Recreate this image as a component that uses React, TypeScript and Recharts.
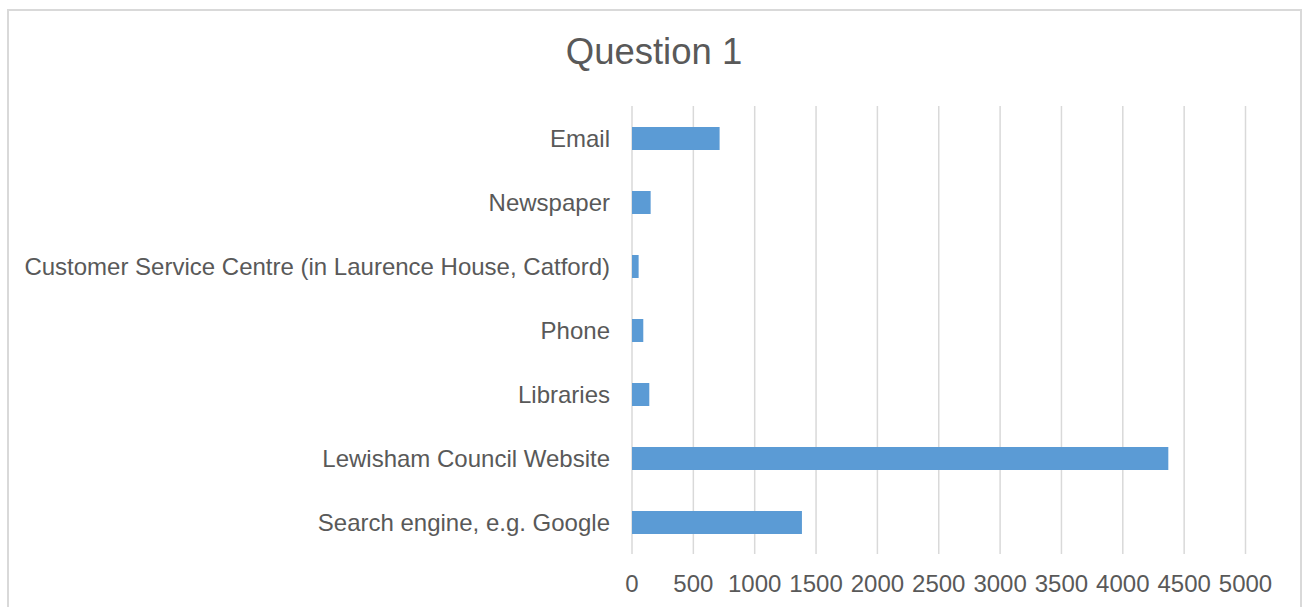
import React from "react";
import { BarChart, Bar, XAxis, YAxis, CartesianGrid } from "recharts";

const categories = [
  "Email",
  "Newspaper",
  "Customer Service Centre (in Laurence House, Catford)",
  "Phone",
  "Libraries",
  "Lewisham Council Website",
  "Search engine, e.g. Google",
];
const values = [714, 152, 54, 92, 141, 4371, 1385];
const xTicks = [0, 500, 1000, 1500, 2000, 2500, 3000, 3500, 4000, 4500, 5000];
const title = "Question 1";

const data = categories.map((name, i) => ({ name, value: values[i] }));

const FONT = "'Liberation Sans', Arial, Helvetica, sans-serif";
const TEXT = "#595959";

export default function App() {
  return (
    <div style={{ position: "absolute", left: 0, top: 0, width: 1303, height: 607, background: "#fff", overflow: "hidden" }}>
      <BarChart
        width={1303}
        height={607}
        data={data}
        layout="vertical"
        margin={{ top: 106, right: 57.5, left: 0, bottom: 0 }}
        barSize={23}
      >
        <CartesianGrid horizontal={false} stroke="#d9d9d9" strokeWidth={1.5} />
        <XAxis
          type="number"
          domain={[0, 5000]}
          ticks={xTicks}
          interval={0}
          axisLine={false}
          tickLine={false}
          tickSize={0}
          tickMargin={21}
          height={53}
          tick={{ fill: TEXT, fontSize: 24, fontFamily: FONT }}
        />
        <YAxis
          type="category"
          dataKey="name"
          width={632}
          axisLine={false}
          tickLine={false}
          tickSize={0}
          tickMargin={22}
          interval={0}
          tick={{ fill: TEXT, fontSize: 24, fontFamily: FONT }}
        />
        <Bar dataKey="value" fill="#5b9bd5" isAnimationActive={false} />
      </BarChart>
      <svg
        width={1303}
        height={607}
        style={{ position: "absolute", left: 0, top: 0, pointerEvents: "none" }}
      >
        <rect x={8} y={10} width={1293} height={640} fill="none" stroke="#d9d9d9" strokeWidth={2} />
        <text x={654} y={64} textAnchor="middle" fill={TEXT} fontSize={36.5} fontFamily={FONT}>
          {title}
        </text>
      </svg>
    </div>
  );
}
